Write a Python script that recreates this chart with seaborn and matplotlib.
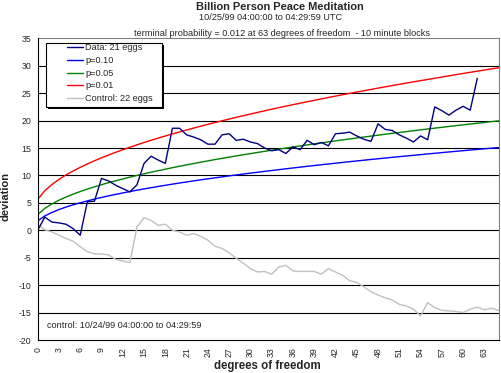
import numpy as np
import pandas as pd
import matplotlib
matplotlib.use("Agg")
import matplotlib.pyplot as plt
from matplotlib.patches import Rectangle
from matplotlib.lines import Line2D
import seaborn as sns

# ---------------- data ----------------
data_vals = [0.0, 2.4, 1.5, 1.35, 1.1, 0.3, -0.9, 5.2, 5.3, 9.45,
             9.0, 8.2, 7.6, 7.0, 8.3, 12.2, 13.5, 12.8, 12.2, 18.6,
             18.6, 17.4, 17.0, 16.5, 15.7, 15.7, 17.4, 17.6, 16.4, 16.6,
             16.1, 15.8, 15.0, 14.5, 14.7, 14.0, 15.2, 14.7, 16.4, 15.6,
             16.0, 15.4, 17.6, 17.7, 17.9, 17.2, 16.6, 16.2, 19.4, 18.4,
             18.2, 17.4, 16.8, 16.1, 17.2, 16.5, 22.5, 21.8, 21.0, 21.9,
             22.6, 21.9, 27.7]

p10_vals = [1.71, 2.61, 3.25, 3.78, 4.24, 4.65, 5.02, 5.36, 5.68, 5.99,
            6.28, 6.55, 6.81, 7.06, 7.31, 7.54, 7.77, 7.99, 8.20, 8.41,
            8.62, 8.81, 9.01, 9.20, 9.38, 9.56, 9.74, 9.92, 10.09, 10.26,
            10.42, 10.58, 10.74, 10.90, 11.05, 11.21, 11.36, 11.51, 11.66, 11.81,
            11.95, 12.09, 12.23, 12.37, 12.51, 12.64, 12.78, 12.91, 13.04, 13.17,
            13.30, 13.42, 13.55, 13.67, 13.79, 13.92, 14.04, 14.16, 14.28, 14.40,
            14.51, 14.63, 14.74, 14.86, 14.97, 15.08]

p05_vals = [2.84, 3.99, 4.81, 5.49, 6.07, 6.59, 7.07, 7.51, 7.92, 8.31,
            8.68, 9.03, 9.36, 9.69, 10.00, 10.30, 10.59, 10.87, 11.14, 11.41,
            11.67, 11.92, 12.17, 12.42, 12.65, 12.89, 13.11, 13.34, 13.56, 13.77,
            13.98, 14.19, 14.39, 14.59, 14.79, 14.99, 15.19, 15.38, 15.57, 15.76,
            15.94, 16.12, 16.30, 16.48, 16.65, 16.83, 17.00, 17.17, 17.34, 17.51,
            17.67, 17.83, 17.99, 18.15, 18.31, 18.47, 18.62, 18.77, 18.93, 19.08,
            19.23, 19.37, 19.52, 19.66, 19.81, 19.95]

p01_vals = [5.63, 7.21, 8.34, 9.28, 10.09, 10.81, 11.48, 12.09, 12.67, 13.21,
            13.73, 14.22, 14.69, 15.14, 15.58, 16.00, 16.41, 16.81, 17.19, 17.57,
            17.93, 18.29, 18.64, 18.98, 19.31, 19.64, 19.96, 20.28, 20.59, 20.89,
            21.19, 21.49, 21.78, 22.07, 22.35, 22.63, 22.90, 23.17, 23.43, 23.69,
            23.95, 24.21, 24.46, 24.71, 24.96, 25.20, 25.44, 25.68, 25.92, 26.15,
            26.38, 26.61, 26.84, 27.06, 27.28, 27.50, 27.72, 27.94, 28.16, 28.38,
            28.59, 28.80, 29.01, 29.22, 29.42, 29.62]

control_vals = [1.0, 0.1, -0.3, -0.9, -1.5, -2.0, -3.0, -3.9, -4.3, -4.3,
                -4.5, -5.3, -5.6, -5.9, 0.6, 2.3, 1.8, 0.9, 1.1, 0.0,
                -0.3, -0.9, -0.6, -1.1, -1.8, -2.9, -3.3, -4.1, -5.1, -6.0,
                -7.0, -7.6, -7.5, -8.0, -6.7, -6.4, -7.4, -7.5, -7.5, -7.5,
                -8.0, -7.0, -7.6, -8.2, -9.2, -9.5, -10.3, -11.2, -11.8, -12.3,
                -12.7, -13.5, -13.8, -14.4, -15.6, -13.2, -14.1, -14.6, -14.7, -14.8,
                -15.0, -14.4, -14.0, -14.5, -14.2, -14.6]

series_names = ["Data: 21 eggs", "p=0.10", "p=0.05", "p=0.01", "Control: 22 eggs"]
series_colors = ["#000080", "#0000FF", "#008000", "#FF0000", "#C0C0C0"]

y_ticks = [-20, -15, -10, -5, 0, 5, 10, 15, 20, 25, 30, 35]
x_label_ticks = list(range(0, 64, 3))

title_lines = ["Billion Person Peace Meditation",
               "10/25/99 04:00:00 to 04:29:59 UTC",
               "terminal probability = 0.012 at 63 degrees of freedom  - 10 minute blocks"]
control_note = "control: 10/24/99 04:00:00 to 04:29:59"

# ---------------- long-form table ----------------
frames = []
for name, vals in zip(series_names, [data_vals, p10_vals, p05_vals, p01_vals, control_vals]):
    frames.append(pd.DataFrame({"dof": np.arange(len(vals)), "deviation": vals, "series": name}))
df = pd.concat(frames, ignore_index=True)

# ---------------- style ----------------
sns.set_style("white")
plt.rcParams["font.family"] = ["Liberation Sans", "DejaVu Sans"]

W, H = 501, 373
fig = plt.figure(figsize=(W / 100, H / 100), dpi=100)
fig.patch.set_facecolor("white")
L, R, T, B = 37.7, 499.0, 38.3, 340.0
ax = fig.add_axes([L / W, 1 - B / H, (R - L) / W, (B - T) / H])

# gridlines (black), excluding the top/bottom borders
for yv in y_ticks[1:-1]:
    ax.axhline(yv, color="black", lw=0.8, zorder=1)

sns.lineplot(data=df, x="dof", y="deviation", hue="series", hue_order=series_names[::-1],
             palette=dict(zip(series_names, series_colors)), estimator=None, sort=False,
             linewidth=1.0, ax=ax, legend=False, zorder=3)

ax.set_xlim(0, 65.06)
ax.set_ylim(-20, 35)
ax.set_yticks(y_ticks)
ax.set_yticklabels([str(v) for v in y_ticks], fontsize=6.3)
ax.set_xticks(range(0, 66))
ax.set_xticklabels([str(v) if v in x_label_ticks else "" for v in range(0, 66)],
                   rotation=90, fontsize=6.3)
ax.tick_params(axis="both", direction="out", length=3.0, width=0.8, color="black", pad=1.5)
ax.tick_params(axis="x", pad=2.0)
ax.set_xlabel("")
ax.set_ylabel("")

for side in ["left", "bottom"]:
    ax.spines[side].set_color("black")
    ax.spines[side].set_linewidth(0.8)
for side in ["top", "right"]:
    ax.spines[side].set_color("#808080")
    ax.spines[side].set_linewidth(0.8)
ax.spines["left"].set_zorder(5)

# legend box with shadow
px_x = 1.0 / (R - L)
px_y = 1.0 / (B - T)
lx, ly, lw_, lh = 0.018, 0.772, 0.251, 0.212
shadow = Rectangle((lx + 2 * px_x, ly - 2 * px_y), lw_, lh, transform=ax.transAxes,
                   facecolor="black", edgecolor="black", lw=0, zorder=8)
box = Rectangle((lx, ly), lw_, lh, transform=ax.transAxes,
                facecolor="white", edgecolor="black", lw=0.8, zorder=9)
ax.add_patch(shadow)
ax.add_patch(box)

handles = [Line2D([0], [0], color=c, lw=1.0) for c in series_colors]
leg = ax.legend(handles, series_names, loc="upper left",
                bbox_to_anchor=((66.7 - L) / (R - L), (B - 43.5) / (B - T)),
                frameon=False, fontsize=6.6, handlelength=1.75, handletextpad=0.3,
                labelspacing=0.4, borderpad=0.0, borderaxespad=0.0)
leg.set_zorder(10)

# control annotation
ax.text((46.7 - L) / (R - L), (B - 326) / (B - T), control_note, transform=ax.transAxes,
        fontsize=6.6, ha="left", va="center", zorder=6)

# titles
fig.text(280 / W, 1 - 6.5 / H, title_lines[0], fontsize=7.9, fontweight="bold",
         ha="center", va="center")
fig.text(270.8 / W, 1 - 17 / H, title_lines[1], fontsize=6.6, ha="center", va="center")
fig.text(282 / W, 1 - 33 / H, title_lines[2], fontsize=6.6, ha="center", va="center")

# axis labels
fig.text(267 / W, 1 - 366 / H, "degrees of freedom", fontsize=8.3, fontweight="bold",
         ha="center", va="center")
fig.text(6 / W, 1 - 196 / H, "deviation", fontsize=8.0, fontweight="bold",
         ha="center", va="center", rotation=90)

fig.savefig("out.png", dpi=100, facecolor="white")
